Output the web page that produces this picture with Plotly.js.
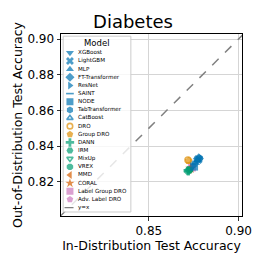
<!DOCTYPE html>
<html><head><meta charset="utf-8">
<script src="https://cdn.plot.ly/plotly-3.0.1.min.js"></script>
<style>html,body{margin:0;padding:0;background:#fff}#chart{width:266px;height:266px}</style>
</head><body><div id="chart"></div>
<script>
// ---- data ----
const models = ["XGBoost","LightGBM","MLP","FT-Transformer","ResNet","SAINT","NODE","TabTransformer","CatBoost",
  "DRO","Group DRO","DANN","IRM","MixUp","VREX","MMD","CORAL","Label Group DRO","Adv. Label DRO"];
const idAcc  = [0.8770,0.8775,0.8760,0.8778,0.8750,0.8765,0.8752,0.8782,0.8772,
  0.8718,0.8722,0.8720,0.8725,0.8730,0.8718,0.8728,0.8732,0.8740,0.8735];
const oodAcc = [0.8320,0.8325,0.8305,0.8330,0.8290,0.8315,0.8285,0.8332,0.8322,
  0.8322,0.8318,0.8262,0.8265,0.8268,0.8260,0.8270,0.8275,0.8280,0.8275];
const xTickVals = [0.85, 0.90];
const yTickVals = [0.82, 0.84, 0.86, 0.88, 0.90];
const refLine = [0.80, 0.91];
const refLabel = "y=x";

// ---- styles ----
const BLUE="#0173b2", ORANGE="#de8f05", GREEN="#029e73", VERM="#d55e00", PINK="#cc78bc";
const colors = [BLUE,BLUE,BLUE,BLUE,BLUE,BLUE,BLUE,BLUE,BLUE,ORANGE,ORANGE,GREEN,GREEN,GREEN,GREEN,VERM,VERM,PINK,PINK];
const symbols = ["triangle-down","x","triangle-up","diamond","triangle-right","line-ew","square","hexagon","triangle-up-open",
  "circle-open","pentagon","cross","hexagon2","triangle-down-open","octagon","triangle-left","star","square","pentagon"];

const rev = a => a.slice().reverse();
const font = "DejaVu Sans, sans-serif";
const isLine = s => s.endsWith("open") || s === "line-ew";

const traces = [
  {x: refLine, y: refLine, mode: "lines", line: {color: "#808080", width: 1.5, dash: "dash"}, hoverinfo: "skip", showlegend: false},
  {x: rev(idAcc), y: rev(oodAcc), mode: "markers", showlegend: false,
   marker: {color: rev(colors), symbol: rev(symbols), size: rev(symbols).map(s => isLine(s) ? 6 : 8),
            line: {color: rev(colors), width: rev(symbols).map(s => isLine(s) ? 1.5 : 0)}}},
  // legend (drawn on auxiliary axes)
  {x: models.map(() => 0.10), y: models.map((m,i) => i), xaxis: "x2", yaxis: "y2", mode: "markers", showlegend: false,
   marker: {color: colors, symbol: symbols, size: symbols.map(s => isLine(s) ? 5.5 : 7),
            line: {color: colors, width: symbols.map(s => isLine(s) ? 1.6 : 0)}}},
  {x: models.map(() => 0.22).concat([0.22]), y: models.map((m,i) => i).concat([models.length]), xaxis: "x2", yaxis: "y2",
   mode: "text", text: models.concat([refLabel]), textposition: "middle right", showlegend: false,
   textfont: {family: font, size: 5.6, color: "#000"}},
  {x: [0.02, 0.19], y: [models.length, models.length], xaxis: "x2", yaxis: "y2", mode: "lines", showlegend: false,
   line: {color: "#808080", width: 1.2, dash: "dash"}}
];

const axCommon = {showline: true, mirror: true, linecolor: "#000", linewidth: 1, ticks: "outside", ticklen: 3.5,
  tickwidth: 0.8, tickcolor: "#000", showgrid: true, gridcolor: "#d5d5d5", gridwidth: 1, zeroline: false,
  tickfont: {family: font, size: 12, color: "#000"}};

const layout = {
  width: 266, height: 266, margin: {l: 61, r: 23.5, t: 34, b: 50},
  paper_bgcolor: "#fff", plot_bgcolor: "rgba(255,255,255,0.8)", showlegend: false,
  title: {text: "Diabetes", font: {family: font, size: 18, color: "#000"}, x: 0.5, xanchor: "center", y: 0.943, yanchor: "top"},
  xaxis: Object.assign({}, axCommon, {range: [0.8011, 0.9019], tickvals: xTickVals, ticktext: xTickVals.map(v => v.toFixed(2)),
    title: {text: "In-Distribution Test Accuracy", font: {family: font, size: 12.5, color: "#000"}, standoff: 4}}),
  yaxis: Object.assign({}, axCommon, {range: [0.8008, 0.9028], tickvals: yTickVals, ticktext: yTickVals.map(v => v.toFixed(2)),
    title: {text: "Out-of-Distribution Test Accuracy", font: {family: font, size: 12.5, color: "#000"}, standoff: 2}}),
  xaxis2: {domain: [0.012, 0.386], range: [0, 1], visible: false, anchor: "y2"},
  yaxis2: {domain: [0.022, 0.988], range: [19.54, -2.05], visible: false, anchor: "x2"},
  shapes: [{type: "rect", xref: "paper", yref: "paper", x0: 0.012, x1: 0.386, y0: 0.022, y1: 0.988, layer: "above",
    fillcolor: "rgba(0,0,0,0)", line: {color: "#cccccc", width: 1}}],
  annotations: [{text: "Model", xref: "x2 domain", yref: "y2", x: 0.5, y: -1.23, showarrow: false,
    xanchor: "center", yanchor: "middle", font: {family: font, size: 8.5, color: "#000"}}]
};

Plotly.newPlot("chart", traces, layout, {staticPlot: true, displayModeBar: false});
</script></body></html>
